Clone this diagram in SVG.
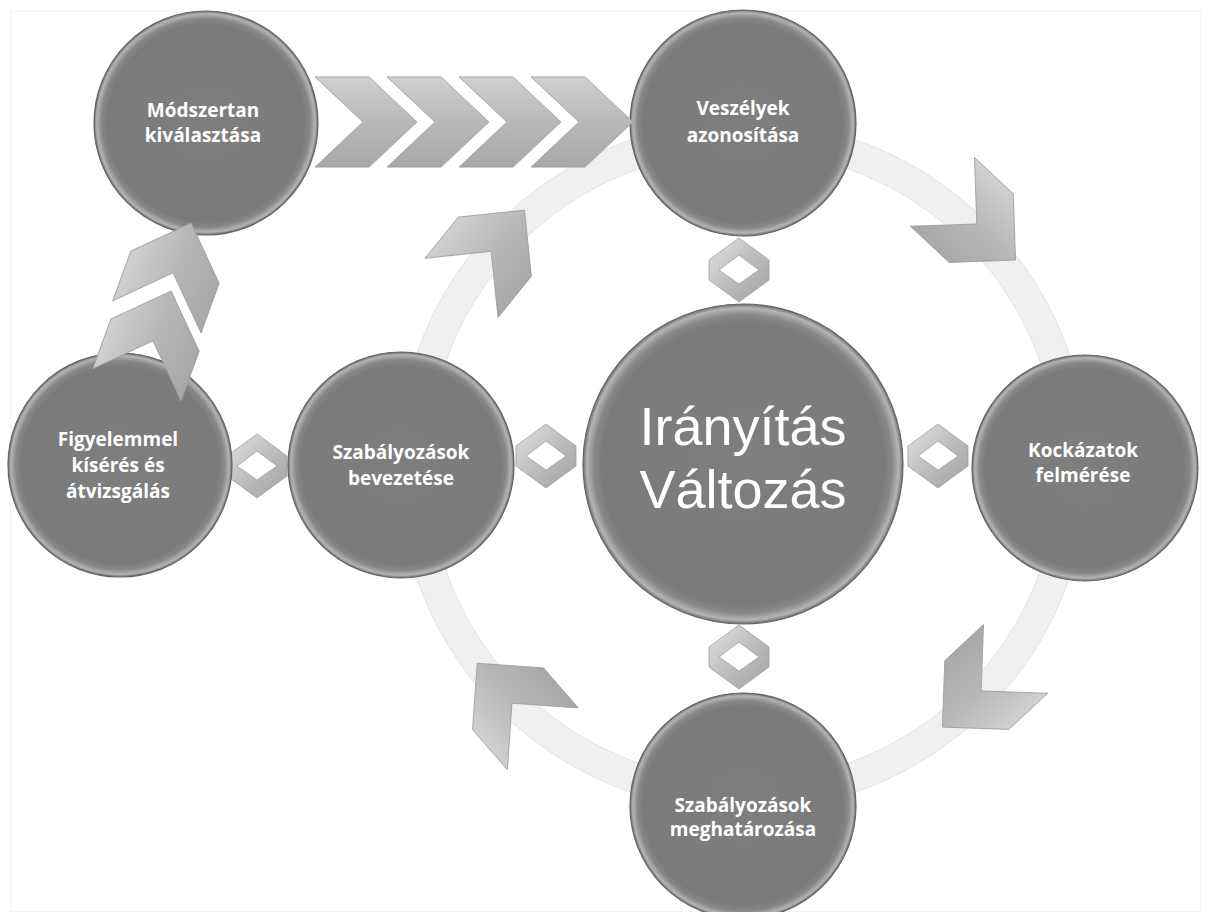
<svg xmlns="http://www.w3.org/2000/svg" width="1208" height="912" viewBox="0 0 1208 912">
  <defs>
    <style>
      .ring { fill: none; stroke: #f0f0f0; stroke-width: 30; }
      .ringEdge { fill: none; stroke: #e3e3e3; stroke-width: 1; }
      .ball { fill: url(#gBall); stroke: #646464; stroke-width: 1.2; }
      .chev { fill: url(#gChev); stroke: #9c9c9c; stroke-width: 0.8; }
      .link { fill: url(#gLink); fill-rule: evenodd; stroke: #a0a0a0; stroke-width: 0.8; }
      .lbl { font-family: "Open Sans", "Liberation Sans", sans-serif; font-weight: 700; font-size: 19px; fill: #ffffff; text-anchor: middle; }
      .big { font-family: "Liberation Sans", Arial, sans-serif; font-weight: 400; font-size: 54px; fill: #ffffff; text-anchor: middle; }
    </style>
    <radialGradient id="gBall" cx="50%" cy="50%" r="50%">
      <stop offset="0" stop-color="#7e7e7e"/>
      <stop offset="0.88" stop-color="#7b7b7b"/>
      <stop offset="0.93" stop-color="#878787"/>
      <stop offset="0.975" stop-color="#b4b4b4"/>
      <stop offset="1" stop-color="#6e6e6e"/>
    </radialGradient>
    <linearGradient id="gChev" x1="0" y1="0" x2="0" y2="1">
      <stop offset="0" stop-color="#d0d0d0"/>
      <stop offset="0.5" stop-color="#b8b8b8"/>
      <stop offset="1" stop-color="#a8a8a8"/>
    </linearGradient>
    <linearGradient id="gLink" x1="0" y1="0" x2="1" y2="1">
      <stop offset="0" stop-color="#e4e4e4"/>
      <stop offset="0.5" stop-color="#bdbdbd"/>
      <stop offset="1" stop-color="#a2a2a2"/>
    </linearGradient>
    <!-- chevron arrow pointing along +x, centred on the origin -->
    <path id="chevron" d="M-50,-47 L3,-47 L50,0 L3,47 L-50,47 L-3,0 Z"/>
    <!-- hollow diamond link: truncated rhombus with a rhombic hole -->
    <path id="diamond" d="M0,-32 L30,-10 L30,10 L0,32 L-30,10 L-30,-10 Z M0,-15 L-20,0 L0,14 L20,0 Z"/>
  </defs>

  <rect x="0" y="0" width="1208" height="912" fill="#ffffff"/>
  <rect x="10.5" y="11.5" width="1190" height="900" fill="none" stroke="#f4f4f4" stroke-width="1"/>

  <!-- cycle ring and its arrows -->
  <g id="connectors">
    <circle class="ring" cx="743" cy="466" r="330"/>
    <circle class="ringEdge" cx="743" cy="466" r="345"/>
    <circle class="ringEdge" cx="743" cy="466" r="315"/>

    <g class="chev">
      <use href="#chevron" transform="translate(979,226) rotate(43)"/>
      <use href="#chevron" transform="translate(979,693) rotate(137)"/>
      <use href="#chevron" transform="translate(510,701) rotate(229)"/>
      <use href="#chevron" transform="translate(493,249) rotate(-51)"/>
    </g>

    <g class="link">
      <use href="#diamond" transform="translate(739,270)"/>
      <use href="#diamond" transform="translate(739,657)"/>
      <use href="#diamond" transform="translate(546,456)"/>
      <use href="#diamond" transform="translate(938,456)"/>
      <use href="#diamond" transform="translate(257,466)"/>
    </g>
  </g>

  <g id="node-kozpont">
    <circle class="ball" cx="743" cy="464" r="160"/>
    <text class="big" x="743" y="445">Irányítás</text>
    <text class="big" x="743" y="508">Változás</text>
  </g>

  <g id="node-veszelyek">
    <circle class="ball" cx="743" cy="123" r="113"/>
    <text class="lbl" x="743" y="115">Veszélyek</text>
    <text class="lbl" x="743" y="142">azonosítása</text>
  </g>

  <g id="node-kockazatok">
    <circle class="ball" cx="1085" cy="468" r="113"/>
    <text class="lbl" x="1083" y="457">Kockázatok</text>
    <text class="lbl" x="1083" y="482">felmérése</text>
  </g>

  <g id="node-meghatarozas">
    <circle class="ball" cx="743" cy="806" r="113"/>
    <text class="lbl" x="743" y="812">Szabályozások</text>
    <text class="lbl" x="743" y="836">meghatározása</text>
  </g>

  <g id="node-bevezetes">
    <circle class="ball" cx="401" cy="465" r="113"/>
    <text class="lbl" x="401" y="459">Szabályozások</text>
    <text class="lbl" x="401" y="485">bevezetése</text>
  </g>

  <g id="node-figyelemmel">
    <circle class="ball" cx="120" cy="465" r="112"/>
    <text class="lbl" x="118" y="446">Figyelemmel</text>
    <text class="lbl" x="118" y="472">kísérés és</text>
    <text class="lbl" x="118" y="498">átvizsgálás</text>
  </g>

  <g id="node-modszertan">
    <circle class="ball" cx="206" cy="123" r="112"/>
    <text class="lbl" x="203" y="117">Módszertan</text>
    <text class="lbl" x="203" y="142">kiválasztása</text>
  </g>

  <!-- process arrows between the outer steps -->
  <g id="flow-arrows" class="chev">
    <use href="#chevron" transform="translate(366,122) scale(1.02,0.96)"/>
    <use href="#chevron" transform="translate(438,122) scale(1.02,0.96)"/>
    <use href="#chevron" transform="translate(510,122) scale(1.02,0.96)"/>
    <use href="#chevron" transform="translate(582,122) scale(1.02,0.96)"/>
    <use href="#chevron" transform="translate(154,338) rotate(-70)"/>
    <use href="#chevron" transform="translate(174,270) rotate(-70)"/>
  </g>
</svg>
